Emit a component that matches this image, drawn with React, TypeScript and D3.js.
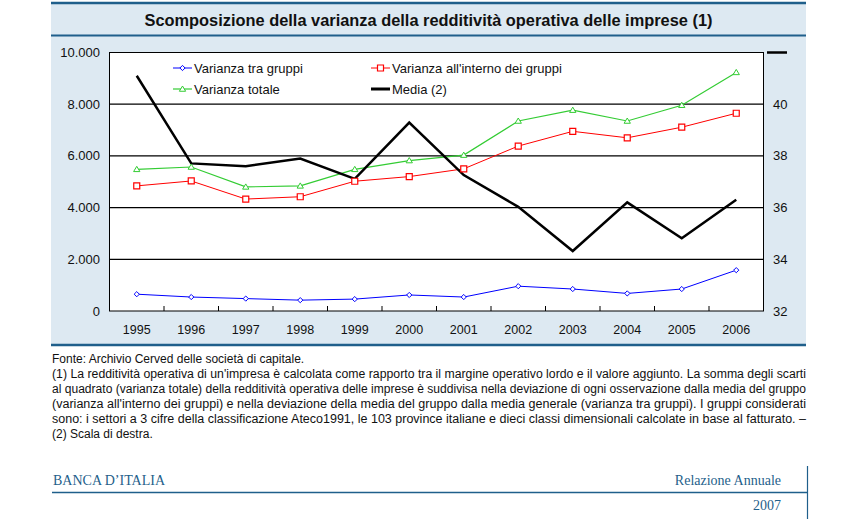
import React from "react";
import * as d3 from "d3";

const years = ["1995","1996","1997","1998","1999","2000","2001","2002","2003","2004","2005","2006"];
const tra = [650, 540, 480, 420, 460, 620, 540, 960, 850, 680, 850, 1580];
const interno = [4840, 5030, 4330, 4420, 5020, 5200, 5500, 6380, 6950, 6700, 7110, 7650];
const totale = [5480, 5570, 4800, 4840, 5480, 5820, 6030, 7350, 7770, 7350, 7960, 9230];
const media = [41.1, 37.71, 37.6, 37.9, 37.11, 39.29, 37.26, 36.03, 34.32, 36.2, 34.81, 36.3];
const leftTicks = [0, 2000, 4000, 6000, 8000, 10000];
const rightTicks = [32, 34, 36, 38, 40];
const title = "Scomposizione della varianza della redditività operativa delle imprese (1)";
const notes = [
  "Fonte: Archivio Cerved delle società di capitale.",
  "(1) La redditività operativa di un'impresa è calcolata come rapporto tra il margine operativo lordo e il valore aggiunto. La somma degli scarti",
  "al quadrato (varianza totale) della redditività operativa delle imprese è suddivisa nella deviazione di ogni osservazione dalla media del gruppo",
  "(varianza all'interno dei gruppi) e nella deviazione della media del gruppo dalla media generale (varianza tra gruppi). I gruppi considerati",
  "sono: i settori a 3 cifre della classificazione Ateco1991, le 103 province italiane e dieci classi dimensionali calcolate in base al fatturato. –",
  "(2) Scala di destra.",
];
const justified = [false, true, true, true, true, false];

const BLUE = "#0000ff";
const RED = "#ff0000";
const GREEN = "#33cc33";
const DARK = "#1f5f8b";
const PANEL = "#dde9f2";
const FONT = "'Liberation Sans', Arial, Helvetica, sans-serif";
const SERIF = "'Liberation Serif', 'Times New Roman', serif";

const L = 109.5, R = 763.5, T = 52.5, B = 311;

function diamond(x: number, y: number, r = 2.6) {
  return `M${x},${y - r}L${x + r},${y}L${x},${y + r}L${x - r},${y}Z`;
}
function square(x: number, y: number, h = 3) {
  return `M${x - h},${y - h}H${x + h}V${y + h}H${x - h}Z`;
}
function tri(x: number, y: number, h = 3) {
  return `M${x},${y - h}L${x + h * 1.05},${y + h * 0.75}L${x - h * 1.05},${y + h * 0.75}Z`;
}

export default function App() {
  const x = d3.scaleBand<string>().domain(years).range([L, R]);
  const cx = (d: string) => (x(d) as number) + x.bandwidth() / 2;
  const y = d3.scaleLinear().domain([0, 10000]).range([B, T]);
  const y2 = d3.scaleLinear().domain([32, 42]).range([B, T]);

  const line = (vals: number[], sc: d3.ScaleLinear<number, number>) =>
    d3.line<number>().x((_, i) => cx(years[i])).y((v) => sc(v))(vals) as string;

  const legendRows = [68, 89];

  return (
    <svg width={866} height={527} style={{ position: "absolute", left: 0, top: 0, background: "#fff" }} fontFamily={FONT}>
      {/* panel */}
      <rect x={51} y={3} width={755} height={342} fill={PANEL} />
      <line x1={51} x2={806} y1={3} y2={3} stroke={DARK} strokeWidth={2.5} />
      <line x1={51} x2={806} y1={35.5} y2={35.5} stroke={DARK} strokeWidth={2} />
      <line x1={51} x2={806} y1={345} y2={345} stroke={DARK} strokeWidth={2.5} />
      <text x={428.5} y={25.5} textAnchor="middle" fontSize={16} fontWeight="bold" fill="#111"
        textLength={568} lengthAdjust="spacingAndGlyphs">{title}</text>

      {/* plot area */}
      <rect x={L} y={T} width={R - L} height={B - T} fill="#fff" stroke="#000" strokeWidth={1} />
      {leftTicks.slice(1, -1).map((t) => (
        <line key={t} x1={L} x2={R} y1={y(t)} y2={y(t)} stroke="#000" strokeWidth={1.2} />
      ))}
      {years.slice(1).map((yr) => (
        <line key={yr} x1={x(yr) as number} x2={x(yr) as number} y1={B} y2={B - 5} stroke="#000" strokeWidth={1} />
      ))}
      {leftTicks.map((t) => (
        <text key={t} x={100} y={y(t) + 4.5} textAnchor="end" fontSize={13} fill="#111">
          {d3.format(",")(t).replace(/,/g, ".")}
        </text>
      ))}
      {rightTicks.map((t) => (
        <text key={t} x={773} y={y2(t) + 4.5} textAnchor="start" fontSize={13} fill="#111">{t}</text>
      ))}
      <line x1={767} x2={787} y1={y2(42)} y2={y2(42)} stroke="#000" strokeWidth={2.5} />
      {years.map((yr) => (
        <text key={yr} x={cx(yr)} y={333.5} textAnchor="middle" fontSize={12.5} fill="#111">{yr}</text>
      ))}

      {/* series */}
      <path d={line(totale, y)} fill="none" stroke={GREEN} strokeWidth={1.2} />
      <path d={line(interno, y)} fill="none" stroke={RED} strokeWidth={1} />
      <path d={line(tra, y)} fill="none" stroke={BLUE} strokeWidth={1} />
      <path d={line(media, y2)} fill="none" stroke="#000" strokeWidth={2.5} />
      {totale.map((v, i) => (
        <path key={"g" + i} d={tri(cx(years[i]), y(v))} fill="#fff" stroke={GREEN} strokeWidth={1} />
      ))}
      {interno.map((v, i) => (
        <path key={"r" + i} d={square(cx(years[i]), y(v))} fill="#fff" stroke={RED} strokeWidth={1.2} />
      ))}
      {tra.map((v, i) => (
        <path key={"b" + i} d={diamond(cx(years[i]), y(v))} fill="#fff" stroke={BLUE} strokeWidth={1} />
      ))}

      {/* legend */}
      <line x1={173} x2={192} y1={legendRows[0]} y2={legendRows[0]} stroke={BLUE} strokeWidth={1} />
      <path d={diamond(182.5, legendRows[0])} fill="#fff" stroke={BLUE} strokeWidth={1} />
      <text x={194} y={legendRows[0] + 4.5} fontSize={13} fill="#111">Varianza tra gruppi</text>
      <line x1={371} x2={390} y1={legendRows[0]} y2={legendRows[0]} stroke={RED} strokeWidth={1} />
      <path d={square(380.5, legendRows[0])} fill="#fff" stroke={RED} strokeWidth={1.2} />
      <text x={392} y={legendRows[0] + 4.5} fontSize={13} fill="#111">Varianza all'interno dei gruppi</text>
      <line x1={173} x2={192} y1={legendRows[1]} y2={legendRows[1]} stroke={GREEN} strokeWidth={1.2} />
      <path d={tri(182.5, legendRows[1])} fill="#fff" stroke={GREEN} strokeWidth={1} />
      <text x={194} y={legendRows[1] + 4.5} fontSize={13} fill="#111">Varianza totale</text>
      <line x1={371} x2={390} y1={legendRows[1]} y2={legendRows[1]} stroke="#000" strokeWidth={3} />
      <text x={392} y={legendRows[1] + 4.5} fontSize={13} fill="#111">Media (2)</text>

      {/* notes */}
      {notes.map((n, i) => (
        <text key={i} x={52} y={363 + i * 15} fontSize={12} fill="#111"
          {...(justified[i] ? { textLength: 754, lengthAdjust: "spacingAndGlyphs" } : {})}>{n}</text>
      ))}

      {/* footer */}
      <text x={53} y={485} fontFamily={SERIF} fontSize={14} fill={DARK}>BANCA D’ITALIA</text>
      <text x={781} y={485} fontFamily={SERIF} fontSize={14} fill={DARK} textAnchor="end">Relazione Annuale</text>
      <text x={781} y={510} fontFamily={SERIF} fontSize={14} fill={DARK} textAnchor="end">2007</text>
      <line x1={52} x2={808} y1={492.5} y2={492.5} stroke={DARK} strokeWidth={1.5} />
      <line x1={807.5} x2={807.5} y1={466} y2={519} stroke={DARK} strokeWidth={1.2} />
    </svg>
  );
}
